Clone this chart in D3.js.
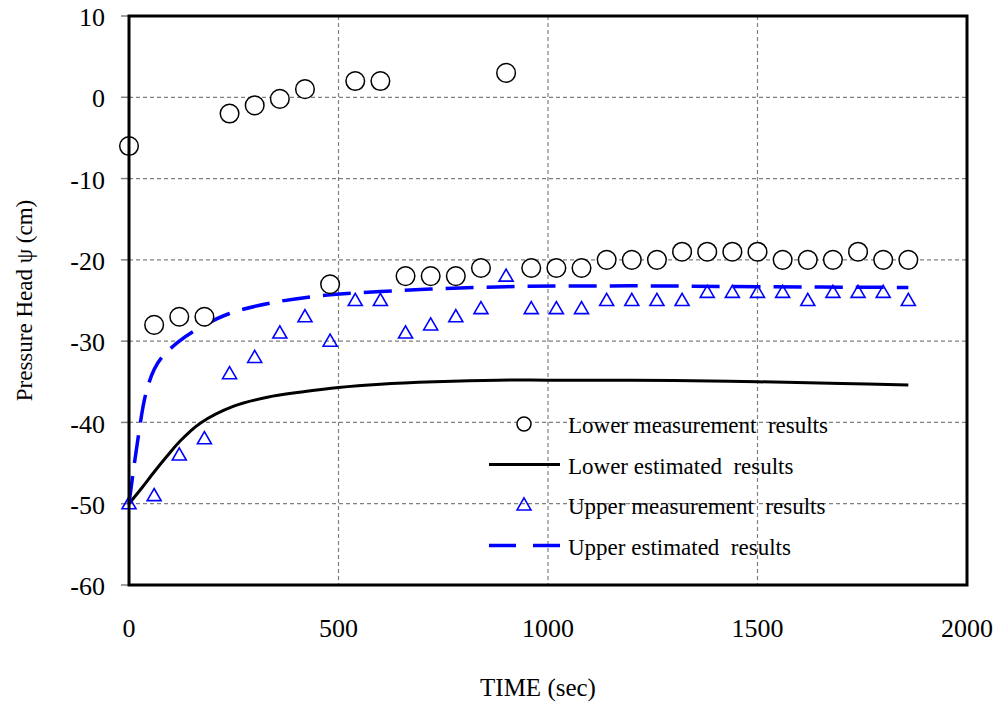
<!DOCTYPE html>
<html>
<head>
<meta charset="utf-8">
<script src="https://cdn.jsdelivr.net/npm/d3@7"></script>
<style>
  body { margin: 0; background: #fff; }
  svg text { font-family: "Liberation Serif", "Times New Roman", serif; fill: #000; }
</style>
</head>
<body>
<div id="chart"></div>
<script>
// chart data
const measureTimes = [0, 60, 120, 180, 240, 300, 360, 420, 480, 540, 600, 660, 720, 780, 840, 900,
  960, 1020, 1080, 1140, 1200, 1260, 1320, 1380, 1440, 1500, 1560, 1620, 1680, 1740, 1800, 1860];
const lowerMeasured = [-6, -28, -27, -27, -2, -1, -0.2, 1, -23, 2, 2, -22, -22, -22, -21, 3,
  -21, -21, -21, -20, -20, -20, -19, -19, -19, -19, -20, -20, -20, -19, -20, -20];
const upperMeasured = [-50, -49, -44, -42, -34, -32, -29, -27, -30, -25, -25, -29, -28, -27, -26, -22,
  -26, -26, -26, -25, -25, -25, -25, -24, -24, -24, -24, -25, -24, -24, -24, -25];

const lowerEstTimes = [0, 30, 60, 90, 120, 170, 250, 330, 420, 500, 600, 730, 880, 1000, 1150, 1300, 1500, 1700, 1860];
const lowerEstimated = [-50, -48.1, -46.1, -44.2, -42.4, -40.1, -38.0, -36.9, -36.2, -35.7, -35.3, -35.0, -34.8, -34.8, -34.8, -34.85, -35.0, -35.2, -35.4];

const upperEstTimes = [0, 20, 40, 60, 80, 120, 160, 240, 360, 480, 600, 720, 900, 1200, 1500, 1860];
const upperEstimated = [-50, -42.5, -36.5, -33.5, -31.9, -30.0, -28.6, -26.6, -25.1, -24.3, -23.9, -23.6, -23.3, -23.2, -23.3, -23.4];

const xTicks = [0, 500, 1000, 1500, 2000];
const yTicks = [10, 0, -10, -20, -30, -40, -50, -60];

const legendItems = [
  { label: 'Lower measurement  results', kind: 'circle' },
  { label: 'Lower estimated  results', kind: 'solid' },
  { label: 'Upper measurement  results', kind: 'triangle' },
  { label: 'Upper estimated  results', kind: 'dashed' }
];

const W = 1002, H = 703;
const margin = { left: 129, top: 16, right: 35, bottom: 118 };
const plotW = W - margin.left - margin.right;
const plotH = H - margin.top - margin.bottom;

const svg = d3.select('#chart').append('svg')
  .attr('width', W).attr('height', H);

const x = d3.scaleLinear().domain([0, 2000]).range([0, plotW]);
const y = d3.scaleLinear().domain([-60, 10]).range([plotH, 0]);

const g = svg.append('g').attr('transform', `translate(${margin.left},${margin.top})`);

// grid lines
g.append('g').selectAll('line').data(xTicks.slice(1, -1)).enter().append('line')
  .attr('x1', d => x(d)).attr('x2', d => x(d))
  .attr('y1', 0).attr('y2', plotH)
  .attr('stroke', '#808080').attr('stroke-width', 1.2).attr('stroke-dasharray', '4,3');
g.append('g').selectAll('line').data(yTicks.slice(1, -1)).enter().append('line')
  .attr('y1', d => y(d)).attr('y2', d => y(d))
  .attr('x1', 0).attr('x2', plotW)
  .attr('stroke', '#808080').attr('stroke-width', 1.2).attr('stroke-dasharray', '4,3');

// y ticks (outside, grey)
g.append('g').selectAll('line').data(yTicks).enter().append('line')
  .attr('x1', -8).attr('x2', 0)
  .attr('y1', d => y(d)).attr('y2', d => y(d))
  .attr('stroke', '#808080').attr('stroke-width', 1.5);

// tick labels
g.append('g').selectAll('text').data(yTicks).enter().append('text')
  .attr('x', -24).attr('y', d => y(d) + 1)
  .attr('dy', '0.35em')
  .attr('text-anchor', 'end')
  .style('font-size', '26px')
  .text(d => d);
g.append('g').selectAll('text').data(xTicks).enter().append('text')
  .attr('x', d => x(d)).attr('y', plotH + 43)
  .attr('dy', '0.35em')
  .attr('text-anchor', 'middle')
  .style('font-size', '26px')
  .text(d => d);

// axis titles
svg.append('text')
  .attr('x', 538).attr('y', 687)
  .attr('dy', '0.35em')
  .attr('text-anchor', 'middle')
  .style('font-size', '25px')
  .text('TIME (sec)');
svg.append('text')
  .attr('transform', `translate(24,${margin.top + plotH / 2}) rotate(-90)`)
  .attr('dy', '0.35em')
  .attr('text-anchor', 'middle')
  .style('font-size', '23px')
  .text('Pressure Head ψ (cm)');

// estimated lines
const line = d3.line().x(d => x(d[0])).y(d => y(d[1])).curve(d3.curveCatmullRom.alpha(0.5));
g.append('path')
  .datum(d3.zip(lowerEstTimes, lowerEstimated))
  .attr('d', line)
  .attr('fill', 'none').attr('stroke', '#000').attr('stroke-width', 3);
g.append('path')
  .datum(d3.zip(upperEstTimes, upperEstimated))
  .attr('d', line)
  .attr('fill', 'none').attr('stroke', '#0000ff').attr('stroke-width', 3.5)
  .attr('stroke-dasharray', '28,13');

// measured markers
const tri = d3.symbol().type(d3.symbolTriangle).size(85);
g.append('g').selectAll('path').data(d3.zip(measureTimes, upperMeasured)).enter().append('path')
  .attr('d', tri)
  .attr('transform', d => `translate(${x(d[0])},${y(d[1]) + 1})`)
  .attr('fill', 'none').attr('stroke', '#0000ff').attr('stroke-width', 1.6);
g.append('g').selectAll('circle').data(d3.zip(measureTimes, lowerMeasured)).enter().append('circle')
  .attr('cx', d => x(d[0])).attr('cy', d => y(d[1]))
  .attr('r', 9.3)
  .attr('fill', '#fff').attr('stroke', '#000').attr('stroke-width', 1.5);

// frame
g.append('rect')
  .attr('x', 0).attr('y', 0).attr('width', plotW).attr('height', plotH)
  .attr('fill', 'none').attr('stroke', '#000').attr('stroke-width', 3);

// legend
const legend = svg.append('g').attr('transform', 'translate(489,424)');
const rows = legend.selectAll('g').data(legendItems).enter().append('g')
  .attr('transform', (d, i) => `translate(0,${i * 40.5})`);
rows.each(function(d) {
  const r = d3.select(this);
  if (d.kind === 'circle') {
    r.append('circle').attr('cx', 35).attr('cy', 0).attr('r', 7)
      .attr('fill', '#fff').attr('stroke', '#000').attr('stroke-width', 1.5);
  } else if (d.kind === 'triangle') {
    r.append('path').attr('d', tri).attr('transform', 'translate(35,1)')
      .attr('fill', 'none').attr('stroke', '#0000ff').attr('stroke-width', 1.6);
  } else {
    r.append('line').attr('x1', 0).attr('x2', 71).attr('y1', 0).attr('y2', 0)
      .attr('stroke', d.kind === 'solid' ? '#000' : '#0000ff')
      .attr('stroke-width', d.kind === 'solid' ? 3 : 3.5)
      .attr('stroke-dasharray', d.kind === 'dashed' ? '27,17' : null);
  }
  r.append('text').attr('x', 79).attr('y', 1).attr('dy', '0.35em')
    .attr('xml:space', 'preserve')
    .style('font-size', '23px').style('white-space', 'pre')
    .text(d.label);
});
</script>
</body>
</html>
